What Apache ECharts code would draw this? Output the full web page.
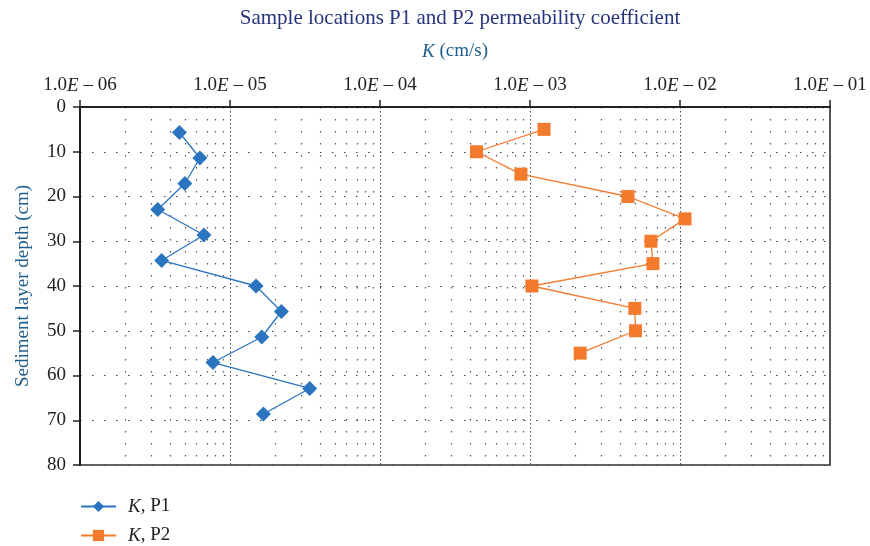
<!DOCTYPE html>
<html><head><meta charset="utf-8">
<script src="https://cdn.jsdelivr.net/npm/echarts@6/dist/echarts.min.js"></script>
<style>html,body{margin:0;padding:0;background:#fff}#c{width:870px;height:546px}</style>
</head><body><div id="c"></div>
<script>
const depthP1 = [5.7, 11.4, 17.1, 22.9, 28.6, 34.3, 40.0, 45.7, 51.4, 57.1, 62.9, 68.6];
const kP1 = [4.6e-6, 6.3e-6, 5.0e-6, 3.3e-6, 6.7e-6, 3.5e-6, 1.49e-5, 2.2e-5, 1.63e-5, 7.7e-6, 3.4e-5, 1.67e-5];
const depthP2 = [5, 10, 15, 20, 25, 30, 35, 40, 45, 50, 55];
const kP2 = [1.24e-3, 4.4e-4, 8.7e-4, 4.5e-3, 1.08e-2, 6.4e-3, 6.6e-3, 1.03e-3, 5.0e-3, 5.05e-3, 2.16e-3];
const seriesNames = ['K, P1', 'K, P2'];
const depthTicks = [0, 10, 20, 30, 40, 50, 60, 70, 80];

const serif = '"Liberation Serif", "DejaVu Serif", serif';
const chart = echarts.init(document.getElementById('c'));
const zip = (ks, ds) => ks.map((k, i) => [k, ds[i]]);
chart.setOption({
  animation: false,
  title: {
    text: 'Sample locations P1 and P2 permeability coefficient',
    left: 455, top: 3, textAlign: 'center',
    textStyle: { fontFamily: serif, fontSize: 21, fontWeight: 'normal', color: '#26357a' }
  },
  grid: { left: 80, right: 40, top: 107, bottom: 81, outerBoundsMode: 'none', containLabel: false,
    show: true, borderColor: '#333', borderWidth: 1.6, backgroundColor: 'transparent' },
  legend: {
    orient: 'vertical', left: 80, top: 497, padding: 0, itemGap: 10, itemWidth: 35, itemHeight: 14,
    data: seriesNames,
    formatter: n => '{i|K}' + n.slice(1),
    textStyle: { fontFamily: serif, fontSize: 19, color: '#222', padding: [0, 0, 0, 7],
      rich: { i: { fontStyle: 'italic', fontFamily: serif, fontSize: 19, color: '#222' } } }
  },
  xAxis: {
    type: 'log', logBase: 10, min: 1e-6, max: 1e-1, position: 'top',
    name: '{i|K} (cm/s)', nameLocation: 'middle', nameGap: 46,
    nameTextStyle: { fontFamily: serif, fontSize: 19, color: '#1f5e8c',
      rich: { i: { fontStyle: 'italic', fontFamily: serif, fontSize: 19, color: '#1f5e8c' } } },
    axisLine: { show: true, lineStyle: { color: '#222', width: 2 } },
    axisTick: { show: true, length: 7, inside: false, lineStyle: { color: '#222', width: 1.5 } },
    axisLabel: {
      margin: 12, fontFamily: serif, fontSize: 19, color: '#222',
      formatter: v => { const e = Math.round(Math.log10(v)); return '1.0{i|E} – ' + (Math.abs(e) < 10 ? '0' : '') + Math.abs(e); },
      rich: { i: { fontStyle: 'italic', fontFamily: serif, fontSize: 19, color: '#222' } }
    },
    splitLine: { show: true, lineStyle: { color: '#444', width: 1, type: [1.5, 2.5] } },
    minorTick: { show: false, splitNumber: 9 },
    minorSplitLine: { show: true, lineStyle: { color: '#555', width: 1.2, type: [1.5, 10.5] } }
  },
  yAxis: {
    type: 'value', inverse: true, min: 0, max: 80, interval: 10,
    name: 'Sediment layer depth (cm)', nameLocation: 'middle', nameGap: 47,
    nameTextStyle: { fontFamily: serif, fontSize: 19, color: '#1f5e8c' },
    axisLine: { show: true, lineStyle: { color: '#222', width: 2 } },
    axisTick: { show: true, length: 7, lineStyle: { color: '#222', width: 1.5 } },
    axisLabel: { margin: 14, fontFamily: serif, fontSize: 19, color: '#222',
      formatter: v => depthTicks.includes(v) ? String(v) : '' },
    splitLine: { show: true, lineStyle: { color: '#444', width: 1.2, type: [1.5, 10.5] } }
  },
  series: [
    { name: seriesNames[0], type: 'line', data: zip(kP1, depthP1), symbol: 'diamond', symbolSize: 15,
      itemStyle: { color: '#2b74bf' }, lineStyle: { color: '#2b74bf', width: 1.3 } },
    { name: seriesNames[1], type: 'line', data: zip(kP2, depthP2), symbol: 'rect', symbolSize: 13,
      itemStyle: { color: '#f47b2e' }, lineStyle: { color: '#f47b2e', width: 1.3 } }
  ]
});
</script></body></html>
